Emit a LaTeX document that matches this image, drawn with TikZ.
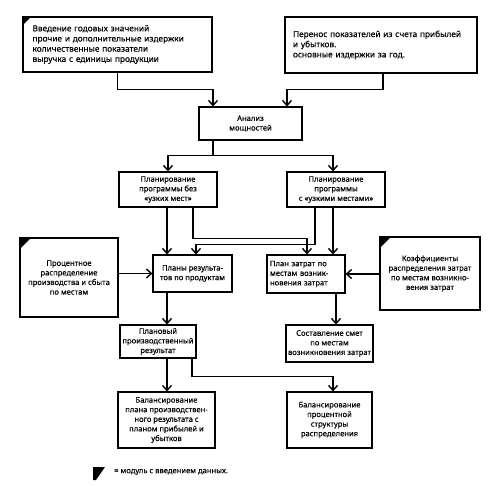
\documentclass[tikz,border=0pt]{standalone}
\usepackage{fontspec}
\setmainfont{Noto Sans}[FakeBold=0.3]
\usetikzlibrary{arrows.meta}
\begin{document}
\begin{tikzpicture}[x=1pt,y=-1pt,
  box/.style={draw, line width=1.1pt, inner sep=2pt, align=center,
    font=\fontsize{7.6}{9.6}\selectfont},
  bigtext/.style={font=\fontsize{8.3}{10.2}\selectfont},
  arr/.style={line width=1.1pt, -{Straight Barb[length=5pt,width=9pt,line width=1.4pt]}},
  legendtext/.style={font=\fontsize{7.6}{9}\selectfont, anchor=west, inner sep=0pt}]
\useasboundingbox (0,0) rectangle (495,485);
% boxes
\node[box, bigtext, align=left, text width=170pt, minimum width=189pt, minimum height=55pt] (b1) at (117.5,44.5)
  {Введение годовых значений\\прочие и дополнительные издержки\\количественные показатели\\выручка с единицы продукции};
\node[box, bigtext, align=left, text width=176pt, minimum width=192pt, minimum height=56pt] (b2) at (381,45)
  {Перенос показателей из счета прибылей\\и убытков.\\основные издержки за год.};
\node[box, minimum width=103pt, minimum height=33pt] (an) at (250.5,123.5) {Анализ\\мощностей};
\node[box, minimum width=98pt, minimum height=35pt] (pl) at (168,189.5) {Планирование\\программы без\\«узких мест»};
\node[box, minimum width=98pt, minimum height=35pt] (pr) at (336,189.5) {Планирование\\программы\\с «узкими местами»};
\node[box, minimum width=98pt, minimum height=79pt] (lin) at (69,277.5) {Процентное\\распределение\\производства и сбыта\\по местам};
\node[box, minimum width=79pt, minimum height=37pt] (pres) at (192.5,273.5) {Планы результа-\\тов по продуктам};
\node[box, align=left, text width=72pt, minimum width=78pt, minimum height=38pt] (pcost) at (306,274) {План затрат по\\местам возник-\\новения затрат};
\node[box, minimum width=100pt, minimum height=73pt] (rin) at (430,273.5) {Коэффициенты\\распределения затрат\\по местам возникно-\\вения затрат};
\node[box, minimum width=76pt, minimum height=33pt] (pres2) at (158,341.5) {Плановый\\производственный\\результат};
\node[box, minimum width=85pt, minimum height=37pt] (smet) at (329.5,343.5) {Составление смет\\по местам\\возникновения затрат};
\node[box, minimum width=97pt, minimum height=56pt] (balL) at (166.5,420) {Балансирование\\плана производствен-\\ного результата с\\планом прибылей и\\убытков};
\node[box, minimum width=85pt, minimum height=56pt] (balR) at (329.5,420) {Балансирование\\процентной\\структуры\\распределения};
% data-input markers
\fill (b1.north west) -- ++(9,0) -- ++(-9,9) -- cycle;
\fill (lin.north west) -- ++(12,0) -- ++(-12,12) -- cycle;
\fill (rin.north west) -- ++(12,0) -- ++(-12,12) -- cycle;
% connectors
\draw[arr] (b1.south) |- ([xshift=-37.5pt,yshift=17pt]an.north) -- ([xshift=-37.5pt]an.north);
\draw[arr] ([xshift=2pt]b2.south) |- ([xshift=36.5pt,yshift=17pt]an.north) -- ([xshift=36.5pt]an.north);
\draw[arr] ([xshift=-37.5pt]an.south) |- ([yshift=16pt]pl.north) -- (pl.north);
\draw[arr] ([xshift=-37.5pt]an.south) |- ([xshift=-3pt,yshift=16pt]pr.north) -- ([xshift=-3pt]pr.north);
\draw[arr] ([xshift=-1pt]pl.south) -- ([xshift=-25.5pt]pres.north);
\draw[arr] ([xshift=25pt]pl.south) |- ([xshift=1pt,yshift=16pt]pcost.north) -- ([xshift=1pt]pcost.north);
\draw[arr] ([xshift=-21pt]pr.south) |- ([xshift=3.5pt,yshift=10pt]pres.north) -- ([xshift=3.5pt]pres.north);
\draw[arr] ([xshift=-3pt]pr.south) -- ([xshift=27pt]pcost.north);
\draw[arr] (lin.east |- pres.west) -- (pres.west);
\draw[arr] (rin.west |- pcost.east) -- (pcost.east);
\draw[arr] ([xshift=-25.5pt]pres.south) -- ([xshift=9pt]pres2.north);
\draw[arr] ([xshift=30pt]pcost.south) -- ([xshift=6.5pt]smet.north);
\draw[arr] ([xshift=9pt]pres2.south) -- ([xshift=0.5pt]balL.north);
\draw[arr] ([xshift=34pt]pres2.south) |- ([xshift=3.5pt,yshift=15pt]balR.north) -- ([xshift=3.5pt]balR.north);
% legend
\fill (93,467) -- (105,467) -- (96,480) -- (93,480) -- cycle;
\node[legendtext] (leg) at (114,472) {= модуль с введением данных.};
\end{tikzpicture}
\end{document}
